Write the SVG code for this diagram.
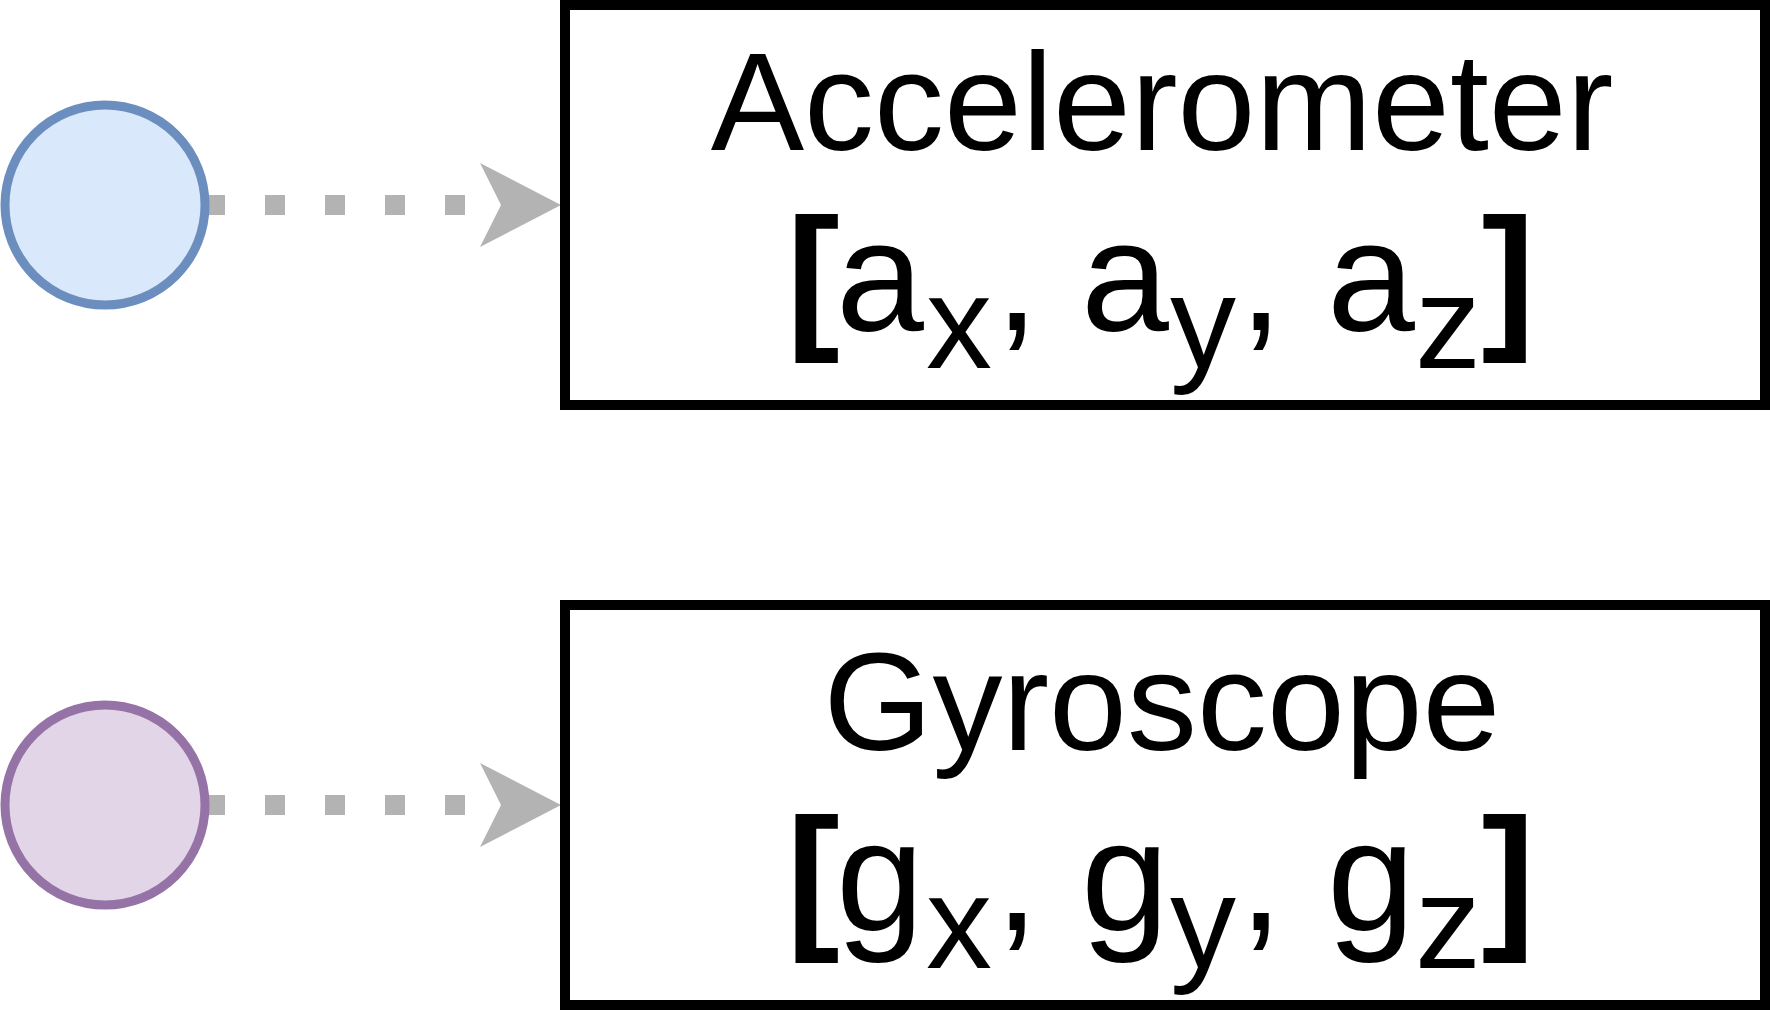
<svg xmlns="http://www.w3.org/2000/svg" width="1770" height="1010" viewBox="0 0 1770 1010">
  <style>
    .box { fill: #ffffff; stroke: #000000; stroke-width: 10; }
    .acc { fill: #dae8fc; stroke: #6c8ebf; stroke-width: 9; }
    .gyr { fill: #e1d5e7; stroke: #9673a6; stroke-width: 9; }
    .edge { fill: none; stroke: #b3b3b3; stroke-width: 20; stroke-dasharray: 20 40; marker-end: url(#arr); }
    .t { font-family: "Liberation Sans", Arial, sans-serif; fill: #000000; }
    .title { font-size: 140px; }
    .main { font-size: 158px; }
    .sub { font-size: 132px; }
    .br { font-size: 160px; font-weight: bold; }
  </style>
  <defs>
    <marker id="arr" markerUnits="userSpaceOnUse" viewBox="0 -45 85 90" refX="21" refY="0" markerWidth="85" markerHeight="90" orient="auto" overflow="visible">
      <path d="M0,-42 L81,0 L0,42 L21,0 Z" fill="#b3b3b3"/>
    </marker>
  </defs>
  <rect x="0" y="0" width="1770" height="1010" fill="#ffffff"/>

  <g id="connectors">
    <path class="edge" d="M205,205 L501,205"/>
    <path class="edge" d="M205,805 L501,805"/>
  </g>

  <g id="acc-source">
    <circle class="acc" cx="105" cy="205" r="100"/>
  </g>

  <g id="gyro-source">
    <circle class="gyr" cx="105" cy="805" r="100"/>
  </g>

  <g id="accelerometer">
    <rect class="box" x="565" y="5" width="1200" height="400"/>
    <text class="t title" x="1162" y="150" text-anchor="middle">Accelerometer</text>
    <text class="t main"><tspan class="br" x="786.5" y="330">[</tspan><tspan x="836" y="330">a</tspan><tspan class="sub" x="926" y="368">x</tspan><tspan x="995" y="330">, </tspan><tspan x="1081" y="330">a</tspan><tspan class="sub" x="1170" y="368">y</tspan><tspan x="1239" y="330">, </tspan><tspan x="1327" y="330">a</tspan><tspan class="sub" x="1415" y="368">z</tspan><tspan class="br" x="1481.5" y="330">]</tspan></text>
  </g>

  <g id="gyroscope">
    <rect class="box" x="565" y="605" width="1200" height="400"/>
    <text class="t title" x="1162" y="750" text-anchor="middle">Gyroscope</text>
    <text class="t main"><tspan class="br" x="786.5" y="930">[</tspan><tspan x="836" y="930">g</tspan><tspan class="sub" x="926" y="968">x</tspan><tspan x="995" y="930">, </tspan><tspan x="1081" y="930">g</tspan><tspan class="sub" x="1170" y="968">y</tspan><tspan x="1239" y="930">, </tspan><tspan x="1327" y="930">g</tspan><tspan class="sub" x="1415" y="968">z</tspan><tspan class="br" x="1481.5" y="930">]</tspan></text>
  </g>
</svg>
